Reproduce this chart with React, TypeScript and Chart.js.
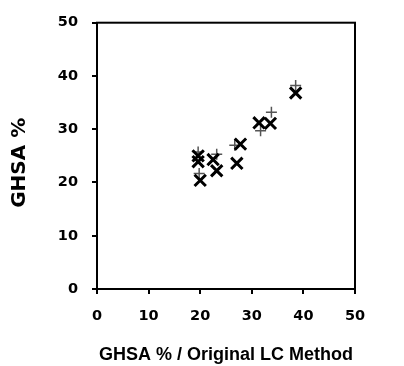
import React, { useEffect, useRef } from "react";
import { Chart, registerables } from "chart.js";

Chart.register(...registerables);

const crossX: number[] = [19.6, 19.6, 20.0, 22.5, 23.2, 27.1, 27.8, 31.4, 33.6, 38.5];
const crossY: number[] = [25.0, 23.9, 20.4, 24.3, 22.2, 23.6, 27.2, 31.2, 31.1, 36.8];
const plusX: number[] = [19.6, 19.8, 23.2, 26.7, 31.7, 33.8, 38.5];
const plusY: number[] = [25.7, 21.7, 25.3, 27.0, 29.7, 33.2, 38.2];
const tickValues: number[] = [0, 10, 20, 30, 40, 50];

const frame = {
  id: "frame",
  afterDraw(chart: any) {
    const { ctx, chartArea: a } = chart;
    ctx.save();
    ctx.strokeStyle = "#000";
    ctx.lineWidth = 2;
    ctx.strokeRect(a.left, a.top, a.right - a.left, a.bottom - a.top);
    ctx.restore();
  },
};

export default function App() {
  const ref = useRef<HTMLCanvasElement | null>(null);
  useEffect(() => {
    if (!ref.current) return;
    const tickFont = { family: "DejaVu Sans", size: 14.5, weight: "bold" as const };
    const chart = new Chart(ref.current, {
      type: "scatter",
      data: {
        datasets: [
          {
            label: "x",
            data: crossX.map((x, i) => ({ x, y: crossY[i] })),
            pointStyle: "crossRot",
            pointRadius: 8,
            borderColor: "#000",
            backgroundColor: "#000",
            pointBorderWidth: 3,
          },
          {
            label: "+",
            data: plusX.map((x, i) => ({ x, y: plusY[i] })),
            pointStyle: "cross",
            pointRadius: 5.5,
            borderColor: "#555",
            backgroundColor: "#555",
            pointBorderWidth: 1.5,
          },
        ],
      },
      options: {
        responsive: false,
        animation: false,
        layout: { padding: { top: 20, right: 49, left: 0, bottom: 0 } },
        plugins: { legend: { display: false }, tooltip: { enabled: false } },
        scales: {
          x: {
            type: "linear",
            min: 0,
            max: 50,
            afterBuildTicks: (s: any) => {
              s.ticks = tickValues.map((v) => ({ value: v }));
            },
            afterFit: (s: any) => {
              s.height = 77;
            },
            grid: { drawOnChartArea: false, drawTicks: true, tickLength: 5, color: "#000", lineWidth: 2 },
            border: { display: false },
            ticks: { color: "#000", font: tickFont, padding: 14, maxRotation: 0 },
            title: {
              display: true,
              text: "GHSA % / Original LC Method",
              color: "#000",
              font: { family: "Liberation Sans", size: 18, weight: "bold", lineHeight: 1 },
              padding: { top: 0, bottom: 2 },
            },
          },
          y: {
            type: "linear",
            min: 0,
            max: 50,
            afterBuildTicks: (s: any) => {
              s.ticks = tickValues.map((v) => ({ value: v }));
            },
            afterFit: (s: any) => {
              s.width = 97;
            },
            grid: { drawOnChartArea: false, drawTicks: true, tickLength: 5, color: "#000", lineWidth: 2 },
            border: { display: false },
            ticks: { color: "#000", font: tickFont, padding: 14 },
            title: {
              display: true,
              text: "GHSA %  ",
              color: "#000",
              font: { family: "DejaVu Sans", size: 20, weight: "bold", lineHeight: 1.2 },
              padding: { top: 8, bottom: 0 },
            },
          },
        },
      },
      plugins: [frame],
    });
    return () => chart.destroy();
  }, []);
  return (
    <div style={{ position: "fixed", left: 0, top: 0, width: 404, height: 366, background: "#fff" }}>
      <canvas ref={ref} width={404} height={366} />
    </div>
  );
}
